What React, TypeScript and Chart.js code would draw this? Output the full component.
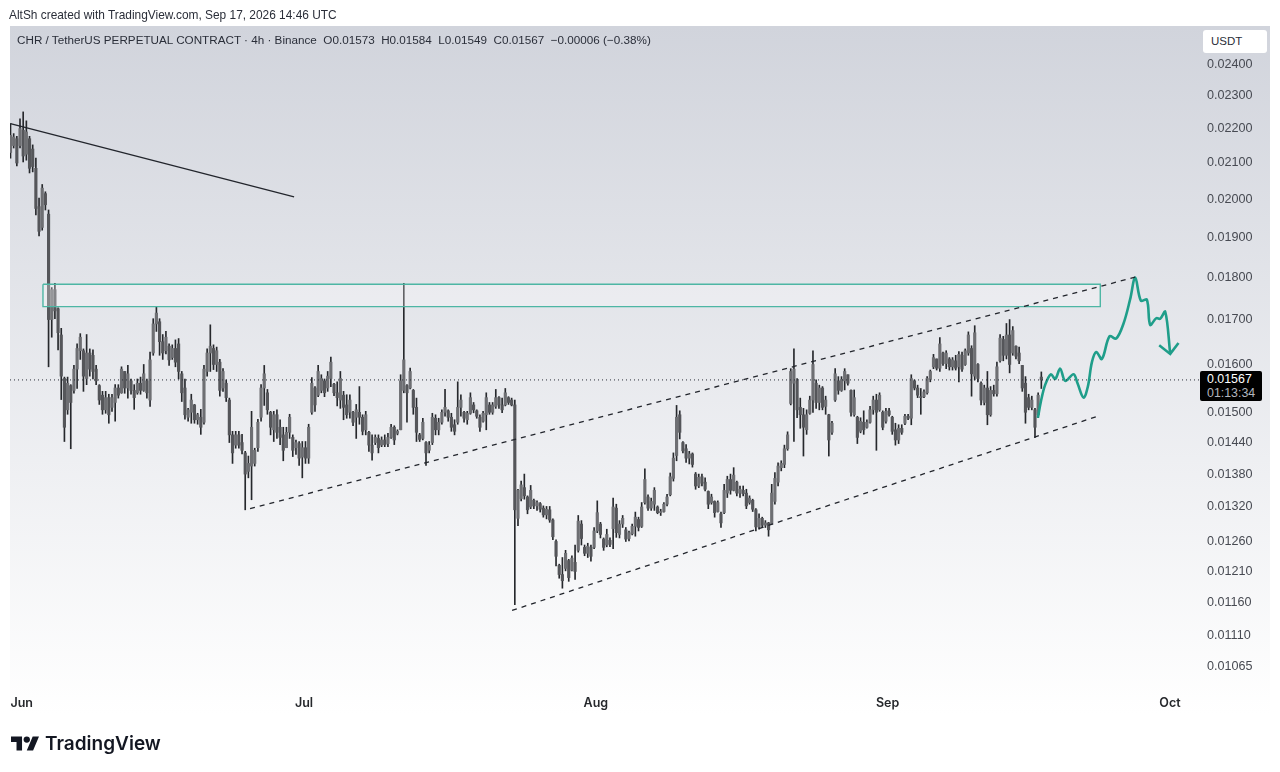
import React, { useEffect, useRef } from 'react';
import Chart from 'chart.js/auto';

// prices are in 0.00001 USDT, one candle every 8h-ish starting just before Jun 1
const opens = [
  2130,2150,2170,2150,2195,2125,2170,2140,2085,1980,
  1925,2015,1960,1700,1770,1725,1665,1570,1505,1555,
  1545,1590,1630,1630,1570,1625,1620,1590,1555,1535,
  1505,1530,1510,1520,1550,1540,1585,1550,1565,1545,
  1540,1560,1545,1565,1525,1625,1690,1695,1650,1630,
  1640,1615,1635,1645,1580,1550,1490,1500,1515,1485,
  1490,1480,1585,1625,1635,1600,1605,1550,1560,1525,
  1455,1435,1455,1440,1420,1385,1395,1400,1430,1490,
  1550,1540,1500,1465,1495,1470,1455,1430,1460,1450,
  1430,1438,1412,1430,1410,1500,1550,1535,1545,1565,
  1550,1570,1558,1540,1525,1535,1515,1500,1500,1490,
  1500,1490,1465,1460,1435,1440,1448,1435,1445,1438,
  1450,1470,1458,1465,1545,1555,1550,1545,1510,1455,
  1448,1440,1425,1440,1488,1465,1480,1500,1503,1490,
  1475,1480,1510,1500,1485,1498,1515,1503,1490,1482,
  1495,1515,1500,1512,1530,1515,1515,1530,1525,1515,
  1300,1335,1355,1338,1320,1332,1322,1326,1318,1306,
  1315,1297,1260,1220,1205,1215,1228,1212,1225,1245,
  1290,1250,1240,1250,1250,1278,1290,1264,1254,1262,
  1282,1318,1272,1290,1280,1265,1273,1286,1298,1286,
  1328,1338,1318,1325,1320,1310,1312,1325,1342,1372,
  1415,1495,1440,1428,1410,1418,1380,1358,1375,1365,
  1348,1328,1330,1312,1308,1310,1345,1370,1350,1365,
  1345,1350,1345,1328,1332,1315,1285,1300,1288,1292,
  1290,1330,1365,1392,1398,1428,1518,1560,1565,1510,
  1495,1465,1498,1525,1560,1520,1550,1512,1495,1460,
  1525,1565,1545,1565,1578,1545,1495,1490,1462,1480,
  1470,1480,1505,1525,1505,1500,1482,1503,1490,1465,
  1445,1468,1478,1492,1488,1565,1550,1532,1532,1540,
  1568,1595,1612,1592,1625,1602,1612,1595,1608,1595,
  1620,1600,1625,1635,1575,1600,1560,1520,1550,1495,
  1545,1538,1608,1655,1620,1665,1625,1640,1625,1598,
  1560,1530,1510,1505,1495,1573,
];
const highs = [
  2215,2185,2177,2229,2250,2223,2177,2152,2114,2003,
  2040,2020,1971,1775,1785,1727,1680,1573,1573,1557,
  1598,1645,1668,1634,1666,1634,1632,1598,1557,1543,
  1543,1537,1537,1557,1557,1595,1585,1598,1569,1557,
  1569,1573,1600,1569,1627,1702,1730,1702,1666,1673,
  1645,1643,1654,1657,1585,1569,1508,1537,1516,1498,
  1506,1598,1634,1688,1643,1638,1611,1591,1567,1529,
  1462,1462,1462,1456,1423,1414,1502,1429,1486,1557,
  1598,1547,1502,1502,1505,1485,1470,1470,1496,1455,
  1445,1442,1442,1442,1476,1572,1553,1598,1578,1569,
  1585,1616,1560,1563,1585,1543,1536,1536,1502,1516,
  1553,1495,1502,1462,1455,1455,1455,1451,1455,1458,
  1476,1473,1465,1578,1785,1557,1592,1547,1529,1458,
  1488,1442,1442,1498,1495,1488,1505,1547,1505,1498,
  1485,1563,1536,1502,1502,1540,1520,1505,1495,1502,
  1540,1520,1520,1547,1532,1529,1549,1532,1529,1525,
  1352,1367,1380,1340,1359,1334,1331,1328,1322,1321,
  1321,1299,1263,1222,1233,1245,1230,1236,1254,1305,
  1296,1254,1257,1254,1284,1331,1293,1266,1281,1266,
  1336,1325,1296,1305,1284,1278,1290,1311,1302,1328,
  1390,1342,1336,1355,1322,1316,1328,1343,1382,1420,
  1514,1503,1442,1436,1423,1420,1383,1380,1380,1373,
  1349,1343,1331,1331,1311,1361,1376,1380,1392,1367,
  1358,1358,1352,1340,1334,1317,1308,1302,1296,1293,
  1361,1383,1401,1405,1435,1461,1591,1634,1570,1529,
  1508,1505,1533,1630,1567,1556,1553,1533,1496,1482,
  1591,1574,1574,1591,1578,1546,1546,1492,1489,1503,
  1485,1512,1533,1537,1540,1503,1508,1508,1492,1478,
  1475,1475,1496,1496,1578,1567,1556,1549,1546,1574,
  1588,1622,1612,1659,1627,1630,1615,1615,1620,1628,
  1627,1634,1672,1641,1686,1602,1563,1556,1585,1553,
  1556,1605,1666,1662,1691,1700,1684,1641,1638,1598,
  1574,1537,1533,1508,1540,1584,
];
const lows = [
  2114,2143,2092,2143,2103,2108,2072,2075,1958,1903,
  1918,1971,1595,1660,1702,1632,1526,1442,1496,1428,
  1539,1549,1611,1543,1557,1575,1569,1557,1516,1496,
  1498,1478,1502,1482,1529,1539,1539,1529,1537,1506,
  1537,1537,1543,1529,1512,1620,1673,1620,1611,1623,
  1598,1611,1595,1569,1522,1486,1482,1478,1478,1476,
  1456,1476,1575,1585,1589,1585,1533,1543,1522,1440,
  1400,1429,1429,1418,1315,1373,1333,1395,1423,1482,
  1514,1496,1455,1442,1448,1436,1405,1430,1448,1413,
  1417,1396,1373,1400,1400,1496,1502,1532,1540,1532,
  1543,1553,1534,1513,1508,1485,1488,1488,1473,1448,
  1476,1455,1455,1423,1406,1436,1420,1432,1432,1432,
  1448,1436,1455,1465,1540,1480,1548,1496,1442,1442,
  1445,1396,1420,1436,1455,1455,1476,1492,1482,1462,
  1455,1476,1492,1480,1476,1496,1499,1488,1462,1480,
  1465,1496,1496,1508,1508,1499,1513,1516,1513,1157,
  1287,1331,1334,1308,1317,1317,1314,1311,1302,1299,
  1293,1263,1219,1199,1183,1211,1194,1211,1197,1242,
  1254,1236,1233,1227,1248,1275,1266,1245,1251,1251,
  1248,1267,1266,1284,1260,1261,1271,1269,1278,1284,
  1325,1314,1314,1314,1308,1305,1311,1322,1340,1367,
  1405,1447,1420,1402,1399,1393,1352,1355,1358,1349,
  1317,1325,1302,1311,1284,1308,1337,1343,1349,1340,
  1337,1340,1317,1325,1312,1278,1281,1284,1284,1269,
  1290,1325,1358,1386,1392,1425,1515,1442,1489,1468,
  1414,1456,1496,1500,1508,1505,1505,1496,1414,1456,
  1522,1537,1543,1546,1556,1492,1492,1438,1459,1456,
  1468,1478,1496,1425,1502,1465,1478,1492,1456,1435,
  1438,1456,1475,1485,1475,1546,1530,1496,1530,1537,
  1563,1591,1588,1585,1598,1591,1588,1588,1588,1563,
  1585,1598,1620,1533,1567,1563,1515,1515,1475,1492,
  1533,1533,1605,1608,1612,1582,1620,1612,1602,1543,
  1478,1505,1505,1450,1489,1549,
];
const closes = [
  2180,2175,2100,2200,2120,2190,2085,2090,1975,1915,
  2030,1985,1700,1770,1720,1670,1575,1470,1560,1520,
  1590,1635,1660,1575,1625,1590,1585,1565,1525,1505,
  1530,1495,1530,1550,1535,1590,1550,1580,1545,1530,
  1560,1545,1580,1540,1610,1690,1715,1650,1625,1660,
  1610,1635,1605,1585,1540,1495,1505,1525,1485,1495,
  1470,1590,1625,1640,1600,1630,1545,1585,1530,1455,
  1420,1455,1435,1425,1380,1400,1470,1425,1480,1550,
  1580,1505,1470,1495,1460,1450,1425,1460,1490,1425,
  1440,1410,1430,1410,1470,1560,1515,1585,1570,1540,
  1575,1605,1540,1530,1570,1510,1495,1525,1480,1505,
  1490,1462,1495,1435,1420,1450,1430,1445,1436,1450,
  1470,1445,1462,1565,1610,1540,1585,1510,1460,1446,
  1480,1420,1435,1490,1465,1480,1500,1510,1490,1470,
  1462,1510,1525,1488,1498,1530,1505,1492,1470,1498,
  1530,1500,1515,1530,1515,1505,1540,1520,1515,1315,
  1350,1360,1340,1315,1350,1322,1328,1316,1306,1316,
  1297,1268,1235,1205,1195,1240,1200,1232,1210,1295,
  1265,1240,1252,1235,1278,1310,1272,1250,1272,1255,
  1320,1275,1290,1300,1264,1275,1286,1302,1284,1320,
  1370,1318,1330,1350,1310,1312,1325,1338,1375,1410,
  1490,1460,1424,1410,1418,1398,1358,1374,1363,1352,
  1325,1338,1310,1328,1292,1350,1370,1350,1378,1345,
  1352,1344,1322,1336,1316,1285,1300,1288,1292,1280,
  1345,1372,1395,1400,1428,1455,1585,1590,1505,1495,
  1470,1495,1525,1600,1520,1550,1510,1525,1445,1478,
  1580,1545,1568,1585,1560,1500,1530,1450,1482,1465,
  1480,1505,1525,1500,1535,1470,1502,1495,1462,1445,
  1468,1460,1492,1488,1570,1550,1535,1530,1542,1570,
  1585,1615,1592,1645,1602,1625,1595,1610,1592,1622,
  1590,1630,1665,1580,1670,1570,1525,1550,1495,1545,
  1538,1595,1658,1620,1665,1600,1675,1618,1608,1550,
  1500,1510,1525,1470,1535,1567,
];

const priceTicks = [2400, 2300, 2200, 2100, 2000, 1900, 1800, 1700, 1600, 1500, 1440, 1380, 1320, 1260, 1210, 1160, 1110, 1065];
const monthTicks = [0, 30, 61, 92, 122]; // days since Jun 1
const monthLabels = ['Jun', 'Jul', 'Aug', 'Sep', 'Oct'];

const lastPrice = 1567;
const firstDay = -1.19;
const stepDays = 0.337;

// drawings, as [day, price]
const trendLine = [[-1.2, 2215], [28.94, 2006]];
const upperChannel = [[24.26, 1317], [118.3, 1800]];
const lowerChannel = [[52.1, 1148], [114.3, 1492]];
const resistanceBox = [[2.26, 1783], [114.6, 1783], [114.6, 1730], [2.26, 1730], [2.26, 1783]];
const forecastPath = [
  [107.97, 1489], [108.29, 1522], [108.75, 1557], [109.35, 1579], [109.81, 1569], [110.34, 1591],
  [110.87, 1565], [111.76, 1579], [112.18, 1560], [112.82, 1530], [113.28, 1553], [113.71, 1605],
  [114.17, 1627], [114.77, 1612], [115.58, 1662], [116.29, 1657], [117.07, 1691], [117.78, 1748],
  [118.31, 1799], [118.91, 1744], [119.55, 1746], [119.9, 1688], [120.54, 1703], [120.97, 1702],
  [121.5, 1718], [122.03, 1623],
];
const arrowHead = [[120.86, 1642], [122.03, 1623], [122.91, 1647]];

const DAY_MIN = -1.243;
const DAY_MAX = 125.3;
const PRICE_MIN = 1033.9;
const PRICE_MAX = 2526.6;

const TEAL = '#1f9e8a';
const xy = (pts: number[][]) => pts.map(([x, y]) => ({ x, y }));

const panelBackground = {
  id: 'panelBackground',
  beforeDraw(chart: any) {
    const { ctx } = chart;
    const g = ctx.createLinearGradient(0, 26, 0, 715);
    g.addColorStop(0, '#d1d4dc');
    g.addColorStop(1, '#ffffff');
    ctx.save();
    ctx.fillStyle = g;
    ctx.fillRect(10, 26, 1260, 689);
    ctx.restore();
  },
};

const App = () => {
  const canvasRef = useRef<HTMLCanvasElement>(null);

  useEffect(() => {
    if (!canvasRef.current) return;
    const candleX = opens.map((_, i) => firstDay + i * stepDays);
    const wicks = candleX.map((x, i) => ({ x, y: [lows[i], highs[i]] }));
    const upBodies = candleX
      .map((x, i) => ({ x, y: [opens[i], closes[i]], up: closes[i] >= opens[i] }))
      .filter((d) => d.up);
    const downBodies = candleX
      .map((x, i) => ({ x, y: [closes[i], opens[i]], up: closes[i] >= opens[i] }))
      .filter((d) => !d.up);

    const line = (data: number[][], extra: object) => ({
      type: 'line' as const,
      data: xy(data),
      pointRadius: 0,
      fill: false,
      order: 1,
      ...extra,
    });

    const chart = new Chart(canvasRef.current, {
      type: 'bar',
      plugins: [panelBackground],
      data: {
        datasets: [
          { data: wicks, backgroundColor: '#26282c', barThickness: 1, grouped: false, order: 4 },
          { data: upBodies, backgroundColor: '#6e6f73', barThickness: 2.5, minBarLength: 1, grouped: false, order: 3 },
          { data: downBodies, backgroundColor: '#55565a', barThickness: 2.5, minBarLength: 1, grouped: false, order: 3 },
          line([[DAY_MIN, lastPrice], [DAY_MAX, lastPrice]], { borderColor: '#2a2e39', borderWidth: 1, borderDash: [1, 3] }),
          line(trendLine, { borderColor: '#22252c', borderWidth: 1.3 }),
          line(upperChannel, { borderColor: '#22252c', borderWidth: 1.3, borderDash: [5, 5] }),
          line(lowerChannel, { borderColor: '#22252c', borderWidth: 1.3, borderDash: [5, 5] }),
          line(resistanceBox, { borderColor: '#4db6a4', borderWidth: 1.4, fill: 'shape', backgroundColor: 'rgba(255,255,255,0.28)' }),
          line(forecastPath, { borderColor: TEAL, borderWidth: 2.6, tension: 0.35 }),
          line(arrowHead, { borderColor: TEAL, borderWidth: 2.6 }),
        ] as any,
      },
      options: {
        responsive: false,
        animation: false,
        layout: { padding: { left: 10, top: 26, right: 10, bottom: 57 } },
        plugins: { legend: { display: false }, tooltip: { enabled: false } },
        scales: {
          x: {
            type: 'linear',
            offset: false,
            min: DAY_MIN,
            max: DAY_MAX,
            grid: { display: false, drawTicks: false },
            border: { display: false },
            afterBuildTicks: (axis: any) => {
              axis.ticks = monthTicks.map((value) => ({ value }));
            },
            afterFit: (axis: any) => {
              axis.height = 27;
            },
            ticks: {
              autoSkip: false,
              maxRotation: 0,
              padding: 8,
              color: '#26282c',
              font: { family: "'Inter', 'Liberation Sans', sans-serif", size: 12.5, weight: 600 },
              callback: (v: any) => monthLabels[monthTicks.indexOf(Number(v))] ?? '',
            },
          },
          y: {
            type: 'logarithmic',
            position: 'right',
            min: PRICE_MIN,
            max: PRICE_MAX,
            grid: { display: false, drawTicks: false },
            border: { display: false },
            afterBuildTicks: (axis: any) => {
              axis.ticks = priceTicks.map((value) => ({ value }));
            },
            afterFit: (axis: any) => {
              axis.width = 69;
            },
            ticks: {
              autoSkip: false,
              padding: 6,
              color: '#474a52',
              font: { family: "'Liberation Sans', sans-serif", size: 12.6 },
              callback: (v: any) => (Number(v) / 100000).toFixed(5),
            },
          },
        },
      } as any,
    });

    return () => chart.destroy();
  }, []);

  const abs: React.CSSProperties = { position: 'absolute', whiteSpace: 'pre', fontFamily: "'Liberation Sans', sans-serif" };

  return (
    <div style={{ position: 'absolute', left: 0, top: 0, width: 1280, height: 772, overflow: 'hidden', background: '#fff' }}>
      <canvas ref={canvasRef} width={1280} height={772} style={{ display: 'block' }} />
      <div style={{ ...abs, left: 9, top: 8, fontSize: 11.9, lineHeight: '14px', color: '#2a2e39' }}>
        AltSh created with TradingView.com, Sep 17, 2026 14:46 UTC
      </div>
      <div style={{ ...abs, left: 17, top: 33, fontSize: 11.7, lineHeight: '14px', color: '#2a2e39' }}>
        CHR / TetherUS PERPETUAL CONTRACT · 4h · Binance  O0.01573  H0.01584  L0.01549  C0.01567  −0.00006 (−0.38%)
      </div>
      <div style={{ ...abs, left: 1203, top: 30, width: 64, height: 23, borderRadius: 3, background: '#fff', fontSize: 11.5, lineHeight: '23px', textIndent: 8, color: '#2a2e39' }}>
        USDT
      </div>
      <div style={{ ...abs, left: 1200, top: 371, width: 62, height: 30, borderRadius: 2, background: '#000', fontSize: 12.4, lineHeight: '14px', paddingTop: 1, boxSizing: 'border-box', textIndent: 7, color: '#fff' }}>
        <div>0.01567</div>
        <div style={{ color: '#b2b5be' }}>01:13:34</div>
      </div>
      <svg style={{ position: 'absolute', left: 11, top: 736 }} width="28" height="15" viewBox="0 4 35.5 18">
        <path d="M14 22H7V11H0V4h14v18zM28 22h-8l7.5-18h8L28 22z" fill="#131722" />
        <circle cx="20" cy="8" r="4" fill="#131722" />
      </svg>
      <div style={{ ...abs, left: 45, top: 731, fontFamily: "'Inter', sans-serif", fontWeight: 600, fontSize: 19, lineHeight: '26px', color: '#131722' }}>
        TradingView
      </div>
    </div>
  );
};

export default App;
